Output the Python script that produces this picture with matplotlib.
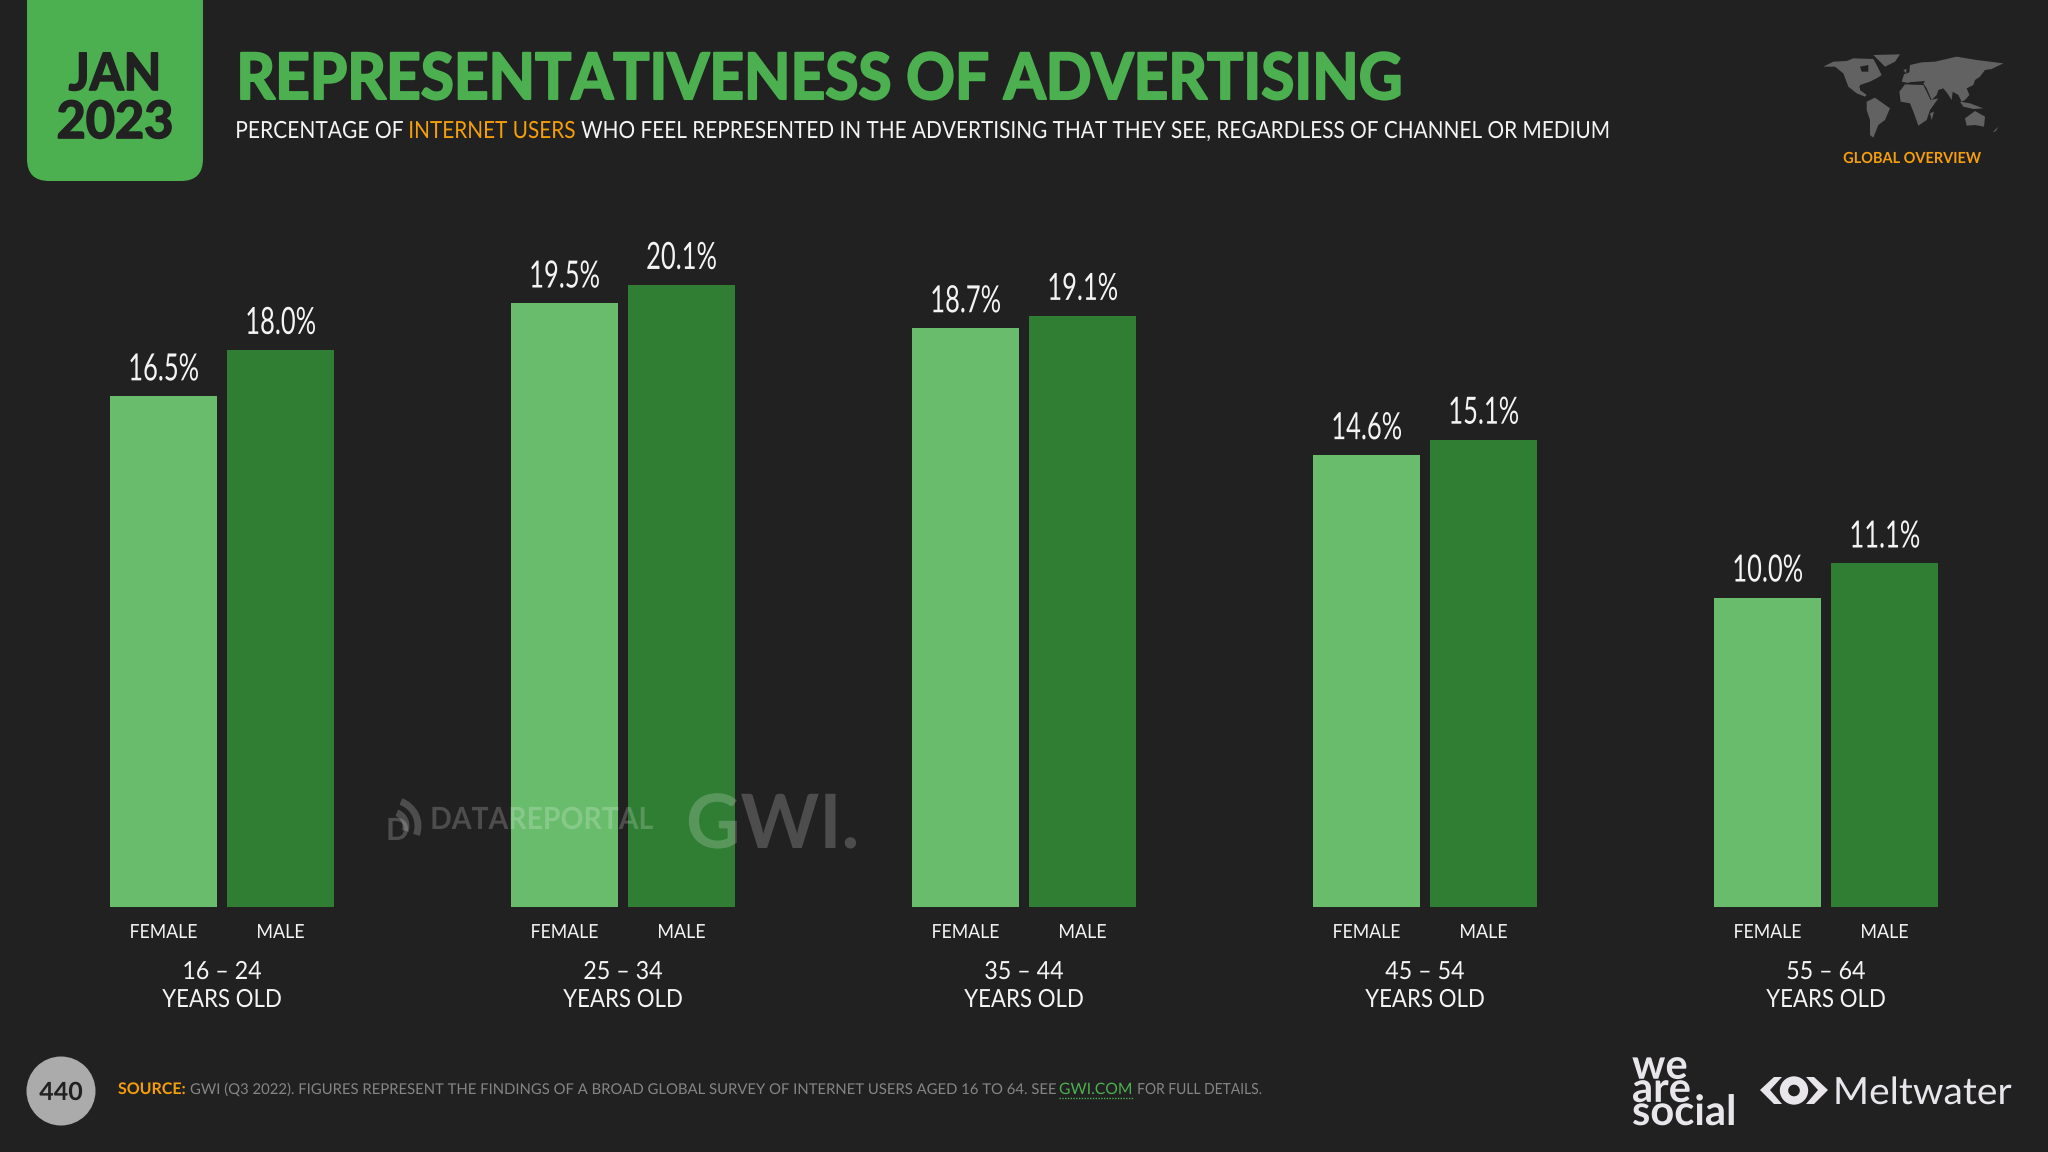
import matplotlib
matplotlib.use("Agg")
import matplotlib.pyplot as plt
import numpy as np
from matplotlib.patches import Arc, Circle, FancyBboxPatch, Polygon
from matplotlib.patheffects import AbstractPathEffect
from matplotlib.transforms import Affine2D

# data
age_groups = ["16 – 24", "25 – 34", "35 – 44", "45 – 54", "55 – 64"]
female = [16.5, 19.5, 18.7, 14.6, 10.0]
male = [18.0, 20.1, 19.1, 15.1, 11.1]

BG = "#212121"
GREEN = "#4CAF50"
LIGHT_BAR = "#68BC6C"
DARK_BAR = "#307D34"
ORANGE = "#F59E0B"
WHITE = "#F4F4F4"
LOGO = "#E8E6EA"
MAP = "#626262"

plt.rcParams["font.family"] = ["Lato", "DejaVu Sans"]


# the slide font is much narrower than anything installed, so squeeze glyphs sideways
# stroke thickens the bold, Lato has nothing heavier here
class Squeeze(AbstractPathEffect):
    def __init__(self, sx, centered=False, stroke=0):
        super().__init__()
        self.sx = sx
        self.centered = centered
        self.stroke = stroke

    def draw_path(self, renderer, gc, tpath, affine, rgbFace=None):
        ext = tpath.get_extents()
        cx = (ext.x0 + ext.x1) / 2 if self.centered else ext.x0
        t = Affine2D().translate(-cx, 0).scale(self.sx, 1).translate(cx, 0) + affine
        gc0 = renderer.new_gc()
        gc0.copy_properties(gc)
        if self.stroke:
            gc0.set_linewidth(self.stroke)
            gc0.set_foreground(rgbFace)
        renderer.draw_path(gc0, tpath, t, rgbFace)
        gc0.restore()


fig = plt.figure(figsize=(20.48, 11.52), dpi=100, facecolor=BG)

# bars: baseline at y=907px, 30.95px per percentage point, groups 401px apart
ax = fig.add_axes([0, (1152 - 907) / 1152, 1, 707 / 1152])
ax.set_facecolor("none")
ax.set_xlim(-222 / 401, (2048 - 222) / 401)
ax.set_ylim(0, 707 / 30.95)
ax.axis("off")

x = np.arange(len(age_groups))
offset = 58.5 / 401
width = 107 / 401
bars_f = ax.bar(x - offset, female, width, color=LIGHT_BAR)
bars_m = ax.bar(x + offset, male, width, color=DARK_BAR)

for bars, vals in [(bars_f, female), (bars_m, male)]:
    for b, v in zip(bars, vals):
        ax.annotate(f"{v:.1f}%", (b.get_x() + b.get_width() / 2, v), xytext=(0, 11.5),
                    textcoords="offset points", ha="center", va="baseline", fontsize=27,
                    color=WHITE, path_effects=[Squeeze(0.68, True)], annotation_clip=False)

# everything else is laid out in reference pixels
deco = fig.add_axes([0, 0, 1, 1], zorder=5)
deco.set_facecolor("none")
deco.set_xlim(0, 2048)
deco.set_ylim(1152, 0)
deco.axis("off")


def label(px, py, s, size, color=WHITE, ha="left", weight="normal", sx=1.0, stroke=0, alpha=None, **kw):
    return deco.text(px, py, s, fontsize=size, color=color, ha=ha, va="baseline", weight=weight,
                     alpha=alpha, path_effects=[Squeeze(sx, ha == "center", stroke)], **kw)


for i, group in enumerate(age_groups):
    cx = 222 + 401 * i
    label(cx - 58.5, 938, "FEMALE", 14, ha="center", sx=0.91)
    label(cx + 58.5, 938, "MALE", 14, ha="center", sx=0.92)
    label(cx, 979, group, 18, ha="center", sx=0.93)
    label(cx, 1007, "YEARS OLD", 18, ha="center", sx=0.89)

# date tab
deco.add_patch(FancyBboxPatch((27, -60), 176, 241, boxstyle="round,pad=0,rounding_size=22",
                              fc=GREEN, ec="none"))
label(115, 90, "JAN", 37, color=BG, ha="center", weight="bold", sx=0.95, stroke=1.2)
label(115, 138, "2023", 37, color=BG, ha="center", weight="bold", sx=0.98, stroke=1.2)

# header
label(236, 99, "REPRESENTATIVENESS OF ADVERTISING", 46, color=GREEN, weight="bold", sx=0.945, stroke=1.5)
label(235, 138, "PERCENTAGE OF", 17, sx=0.89)
label(408, 138, "INTERNET USERS", 17, color=ORANGE, sx=0.88)
label(581, 138, "WHO FEEL REPRESENTED IN THE ADVERTISING THAT THEY SEE, REGARDLESS OF CHANNEL OR MEDIUM",
      17, sx=0.881)
label(1912, 163, "GLOBAL OVERVIEW", 11, color=ORANGE, ha="center", weight="bold", sx=0.95)

# rough world map, corner logo only
land = [
    [(40, 65), (70, 50), (110, 48), (130, 40), (190, 42), (200, 60), (215, 90), (205, 97), (180, 110),
     (150, 120), (150, 135), (170, 150), (165, 155), (140, 145), (115, 125), (100, 85), (75, 65)],
    [(190, 30), (270, 28), (255, 50), (225, 65), (205, 45)],
    [(170, 170), (195, 158), (240, 190), (225, 225), (205, 240), (190, 278), (180, 270), (180, 225), (170, 195)],
    [(268, 140), (285, 118), (340, 120), (362, 165), (385, 160), (360, 195), (350, 225), (325, 242),
     (312, 205), (300, 175), (272, 170)],
    [(275, 110), (282, 88), (298, 82), (300, 60), (335, 52), (375, 50), (440, 35), (500, 45), (580, 55),
     (545, 72), (525, 75), (510, 95), (495, 105), (490, 120), (470, 130), (478, 150), (465, 165), (455, 170),
     (445, 150), (428, 140), (425, 165), (412, 145), (400, 130), (385, 135), (380, 150), (365, 165),
     (350, 130), (340, 115), (300, 115)],
    [(465, 220), (495, 198), (525, 215), (522, 245), (495, 240), (470, 242)],
    [(360, 205), (372, 200), (365, 225)],
    [(450, 170), (480, 175), (520, 190), (490, 192), (460, 185)],
    [(548, 262), (565, 245), (558, 258)],
    [(280, 75), (290, 72), (288, 85)],
]
water = [
    [(150, 65), (175, 60), (175, 80), (155, 80)],
    [(145, 125), (175, 125), (165, 140)],
    [(295, 112), (345, 108), (340, 116), (300, 118)],
]
for pts, col in [(p, MAP) for p in land] + [(p, BG) for p in water]:
    deco.add_patch(Polygon([(1810 + a / 3, 45 + b / 3) for a, b in pts], closed=True, fc=col, ec="none"))

# watermark
label(430, 829, "DATAREPORTAL", 22, color="white", weight="bold", sx=0.93, alpha=0.2)
label(686, 848, "GWI.", 54, color="white", weight="bold", sx=1.0, alpha=0.2)
for r in (14, 26):
    deco.add_patch(Arc((392, 826), r * 2, r * 2, theta1=-70, theta2=20, lw=5, color="white", alpha=0.2))
label(386, 840, "D", 22, color="white", weight="bold", alpha=0.2)

# footer
deco.add_patch(Circle((61, 1091), 34.5, fc="#ABABAB", ec="none"))
label(61, 1100, "440", 18, color=BG, ha="center", weight="bold")
label(118, 1094, "SOURCE:", 11.5, color=ORANGE, weight="bold")
label(190, 1094, "GWI (Q3 2022). FIGURES REPRESENT THE FINDINGS OF A BROAD GLOBAL SURVEY OF INTERNET USERS AGED 16 TO 64. SEE",
      10.7, color="#858585")
label(1059, 1094, "GWI.COM", 11.3, color=GREEN)
deco.plot([1059, 1134], [1098, 1098], color=GREEN, lw=1, ls=(0, (1, 1)))
label(1137, 1094, "FOR FULL DETAILS.", 11, color="#858585", sx=0.907)

# partner logos
label(1632, 1125, "we\nare\nsocial", 30, color=LOGO, weight="bold", linespacing=0.52)
label(1833, 1104, "Meltwater", 27, color=LOGO, sx=1.04)
for sign, tip in [(1, 1760), (-1, 1828)]:
    chev = [(tip, 1090), (tip + sign * 14, 1077), (tip + sign * 22, 1077), (tip + sign * 10, 1090),
            (tip + sign * 22, 1104), (tip + sign * 14, 1104)]
    deco.add_patch(Polygon(chev, closed=True, fc=LOGO, ec="none"))
deco.add_patch(Circle((1794, 1090.5), 10, fc="none", ec=LOGO, lw=6))

fig.savefig("out.png", dpi=100, facecolor=BG)
